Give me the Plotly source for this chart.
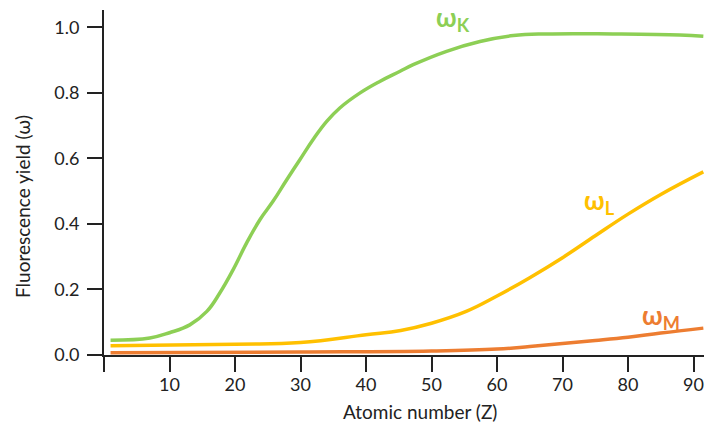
import plotly.graph_objects as go

# Atomic number samples and fluorescence yields
z_k = [1, 7, 10, 13.1, 15.7, 17.7, 19.7, 21.8, 23.8, 25.8, 27.9, 29.9, 31.9, 34.0, 36.0,
       39.1, 42.1, 45.2, 47.2, 52.3, 57.4, 62.5, 67.6, 77.7, 87.9, 91.5]
omega_k = [0.045, 0.052, 0.068, 0.092, 0.133, 0.19, 0.26, 0.343, 0.413, 0.469, 0.535, 0.596,
           0.657, 0.713, 0.754, 0.80, 0.835, 0.866, 0.886, 0.927, 0.957, 0.975, 0.98, 0.98,
           0.977, 0.973]

z_l = [1, 20, 30, 40, 45.3, 50, 55.3, 60, 65, 70, 75, 80, 85, 91.5]
omega_l = [0.028, 0.033, 0.038, 0.062, 0.075, 0.097, 0.133, 0.18, 0.236, 0.297, 0.364,
           0.43, 0.49, 0.559]

z_m = [1, 30, 50, 60, 65, 70, 75, 80, 85, 91.5]
omega_m = [0.007, 0.009, 0.012, 0.018, 0.026, 0.035, 0.044, 0.054, 0.067, 0.082]

x_ticks = [0, 10, 20, 30, 40, 50, 60, 70, 80, 90]
x_tick_text = ["", "10", "20", "30", "40", "50", "60", "70", "80", "90"]
y_ticks = [0.0, 0.2, 0.4, 0.6, 0.8, 1.0]

GREEN = "#8DCF55"
GOLD = "#FFC000"
ORANGE = "#ED7D31"
FONT = "Lato"

fig = go.Figure()
for xs, ys, col, nm in [(z_k, omega_k, GREEN, "ωK"), (z_l, omega_l, GOLD, "ωL"), (z_m, omega_m, ORANGE, "ωM")]:
    fig.add_trace(go.Scatter(x=xs, y=ys, mode="lines", name=nm, hoverinfo="skip",
                             line=dict(color=col, width=3.5, shape="spline", smoothing=1.2)))

def lab(x, y, txt, color):
    fig.add_annotation(x=x, y=y, xref="x", yref="y", text=txt, showarrow=False,
                       xanchor="left", yanchor="middle",
                       font=dict(family=FONT, size=26, color=color))

lab(50.4, 1.028, "<b>ω<sub>K</sub></b>", GREEN)
lab(73.0, 0.467, "<b>ω<sub>L</sub></b>", GOLD)
lab(81.8, 0.117, "<b>ω<sub>M</sub></b>", ORANGE)

fig.add_annotation(x=22, y=207, xref="paper", yref="paper", text="Fluorescence yield (ω)",
                   showarrow=False, textangle=-90, xanchor="center", yanchor="middle",
                   font=dict(family=FONT, size=19, color="#222"))
fig.add_annotation(text="Atomic number (Z)", showarrow=False, xref="paper", yref="paper",
                   x=0, y=0, font=dict(family=FONT, size=19, color="#222"))

fig.update_layout(
    width=705, height=430,
    margin=dict(l=104, r=1, t=10, b=75, autoexpand=False),
    paper_bgcolor="white", plot_bgcolor="white",
    showlegend=False,
    font=dict(family=FONT, size=18, color="#222"),
)
fig.update_xaxes(range=[0, 91.6], tickvals=x_ticks, ticktext=x_tick_text,
                 showline=True, linecolor="#222", linewidth=2, automargin=False,
                 ticks="outside", ticklen=15, tickwidth=2, tickcolor="#222",
                 showgrid=False, zeroline=False, ticklabelstandoff=-3)
fig.update_yaxes(range=[0, 1.053], tickvals=y_ticks, tickformat=".1f",
                 showline=True, linecolor="#222", linewidth=2, automargin=False,
                 ticks="outside", ticklen=15, tickwidth=2, tickcolor="#222",
                 showgrid=False, zeroline=False, ticklabelstandoff=4)

# Position paper-based annotations in pixel terms
W, H = 705, 430
ml, mr, mt, mb = 104, 1, 10, 75
pw, ph = W - ml - mr, H - mt - mb
anns = list(fig.layout.annotations)
anns[3].update(x=(22 - ml) / pw, y=(H - 207 - mb) / ph)
anns[4].update(x=(420 - ml) / pw, y=(H - 411 - mb) / ph, xanchor="center", yanchor="middle")
fig.layout.annotations = anns

fig.write_html("out.html", config={"displayModeBar": False},
               post_script="document.body.style.margin='0px';document.body.style.overflow='hidden';")
